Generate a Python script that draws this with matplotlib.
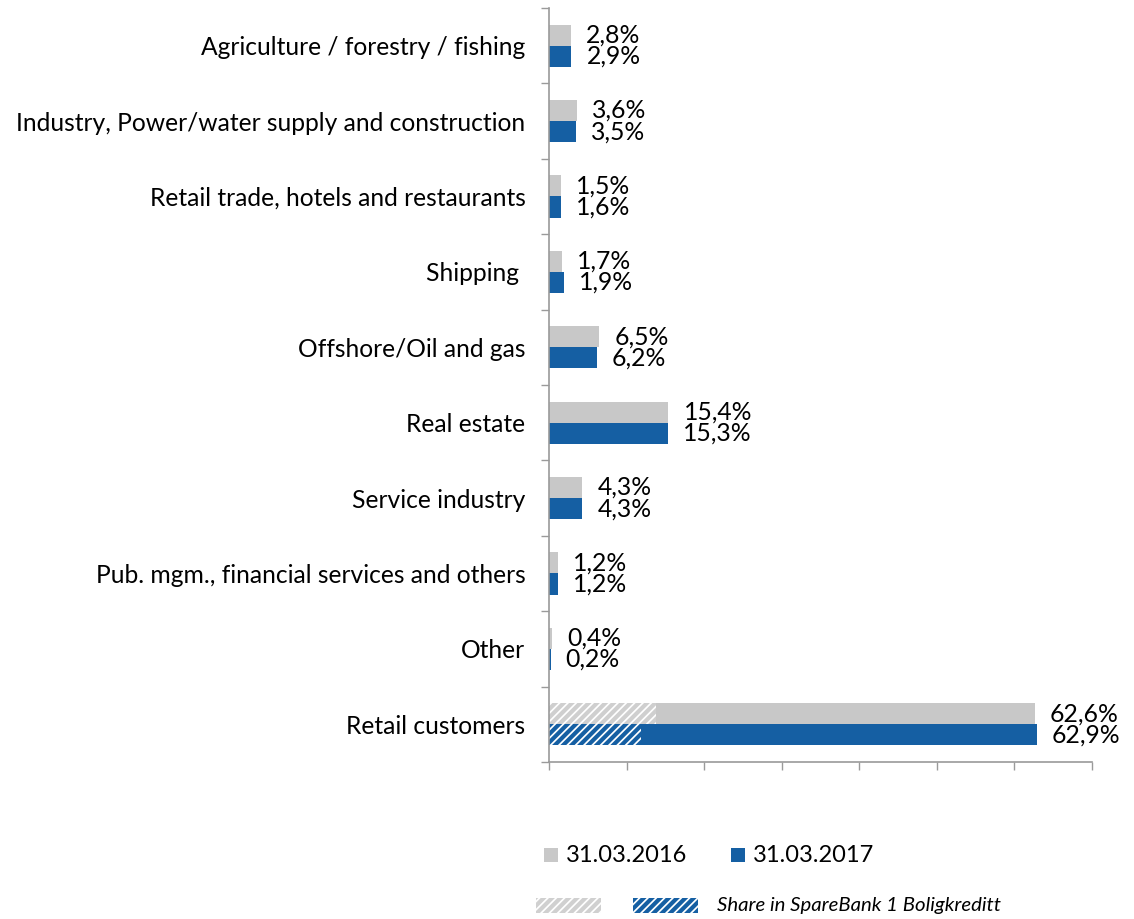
import matplotlib
matplotlib.use("Agg")
import matplotlib.pyplot as plt
from matplotlib.patches import Rectangle
from matplotlib.ticker import FixedLocator
import numpy as np

plt.rcParams['font.family'] = ['Lato', 'DejaVu Sans']
plt.rcParams['hatch.linewidth'] = 3.0

categories = [
    "Agriculture / forestry / fishing",
    "Industry, Power/water supply and construction",
    "Retail trade, hotels and restaurants",
    "Shipping ",
    "Offshore/Oil and gas",
    "Real estate",
    "Service industry",
    "Pub. mgm., financial services and others",
    "Other",
    "Retail customers",
]
share_2016 = [2.8, 3.6, 1.5, 1.7, 6.5, 15.4, 4.3, 1.2, 0.4, 62.6]
share_2017 = [2.9, 3.5, 1.6, 1.9, 6.2, 15.3, 4.3, 1.2, 0.2, 62.9]
# Part of the retail customer portfolio transferred to SpareBank 1 Boligkreditt
boligkreditt_2016 = [0, 0, 0, 0, 0, 0, 0, 0, 0, 13.8]
boligkreditt_2017 = [0, 0, 0, 0, 0, 0, 0, 0, 0, 11.9]
series_labels = ["31.03.2016", "31.03.2017"]
hatch_label = "Share in SpareBank 1 Boligkreditt"

GREY = "#C8C8C8"
BLUE = "#155FA3"
AXIS = "#9A9A9A"

fig = plt.figure(figsize=(11.34, 9.19), dpi=100)
ax = fig.add_axes([549 / 1134, 1 - 762 / 919, 543 / 1134, 754 / 919])

y = np.arange(len(categories))
h = 0.28
ax.barh(y - h / 2, share_2016, height=h, color=GREY, linewidth=0)
ax.barh(y + h / 2, share_2017, height=h, color=BLUE, linewidth=0)

# Hatched overlay for the Boligkreditt share
for vals, col, off in [(boligkreditt_2016, "#CFCFCF", -h / 2), (boligkreditt_2017, BLUE, h / 2)]:
    idx = [i for i, v in enumerate(vals) if v > 0]
    ax.barh(y[idx] + off, [vals[i] for i in idx], height=h, facecolor="white",
            edgecolor=col, hatch="////", linewidth=0)

def fmt(v):
    return f"{v:.1f}".replace(".", ",") + "%"

for i in range(len(categories)):
    ax.annotate(fmt(share_2016[i]), (share_2016[i], y[i] - h / 2), xytext=(15, 0),
                textcoords="offset pixels", va="center", ha="left", fontsize=17.8)
    ax.annotate(fmt(share_2017[i]), (share_2017[i], y[i] + h / 2), xytext=(15, 0),
                textcoords="offset pixels", va="center", ha="left", fontsize=17.8)

ax.set_xlim(0, 70)
ax.set_ylim(len(categories) - 0.5, -0.5)
ax.set_xticks(np.arange(0, 71, 10))
ax.set_xticklabels([])
ax.tick_params(axis="x", length=6, width=1, color=AXIS, direction="out")

ax.set_yticks(y)
ax.set_yticklabels(categories, fontsize=17.7)
ax.tick_params(axis="y", which="major", length=0, pad=17)
ax.yaxis.set_minor_locator(FixedLocator(np.arange(-0.5, len(categories), 1)))
ax.tick_params(axis="y", which="minor", length=6, width=1, color=AXIS)

for s in ["top", "right"]:
    ax.spines[s].set_visible(False)
for s in ["left", "bottom"]:
    ax.spines[s].set_color(AXIS)
    ax.spines[s].set_linewidth(1.2)

# Legend, placed in figure pixel coordinates
W, H = 1134, 919
def rect(x0, y0, x1, y1, **kw):
    fig.add_artist(Rectangle((x0 / W, 1 - y1 / H), (x1 - x0) / W, (y1 - y0) / H,
                             transform=fig.transFigure, **kw))

rect(544, 848, 558, 862, facecolor=GREY, linewidth=0)
fig.text(566 / W, 1 - 855 / H, series_labels[0], fontsize=17, va="center", ha="left")
rect(731, 848, 745, 862, facecolor=BLUE, linewidth=0)
fig.text(753 / W, 1 - 855 / H, series_labels[1], fontsize=17, va="center", ha="left")

rect(536, 898, 601, 913, facecolor="white", edgecolor="#D0D0D0", hatch="////", linewidth=0)
rect(633, 898, 698, 913, facecolor="white", edgecolor=BLUE, hatch="////", linewidth=0)
fig.text(717 / W, 1 - 906 / H, hatch_label, fontsize=14.7, style="italic",
         va="center", ha="left")

fig.savefig("out.png", dpi=100)
